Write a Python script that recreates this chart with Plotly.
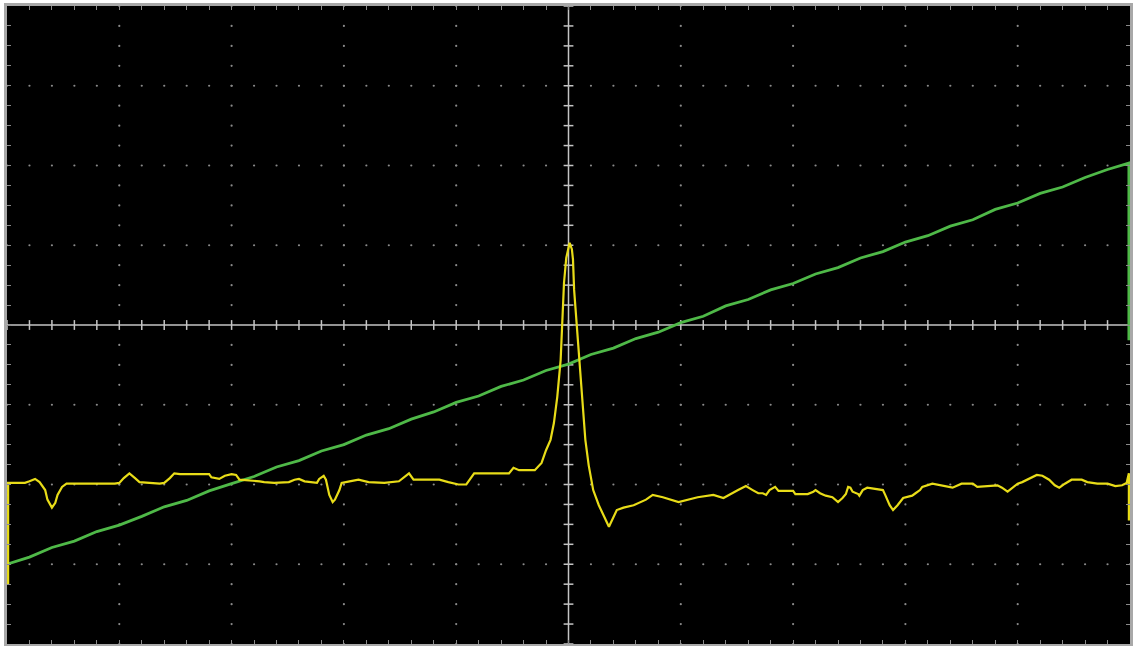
import numpy as np
import plotly.graph_objects as go

# Oscilloscope screen: x and y in divisions (10 x 8 grid, centre at 0,0)
x_divs = 10
y_divs = 8

# CH2 (green) ramp, sampled every 0.2 div
green_x = [round(-5 + 0.2 * k, 2) for k in range(50)] + [4.99, 4.99]
green_y = [-3.00, -2.91, -2.79, -2.71, -2.59, -2.51, -2.40, -2.28, -2.20, -2.08,
           -1.99, -1.90, -1.78, -1.70, -1.58, -1.50, -1.38, -1.30, -1.18, -1.09,
           -0.97, -0.89, -0.77, -0.69, -0.57, -0.49, -0.37, -0.29, -0.17, -0.09,
           0.03, 0.11, 0.24, 0.32, 0.44, 0.52, 0.64, 0.72, 0.84, 0.92,
           1.04, 1.12, 1.24, 1.32, 1.45, 1.53, 1.65, 1.73, 1.85, 1.95,
           2.03, -0.19]

# CH1 (yellow) trace with resonance peak
yellow_x = [-4.99, -4.99, -4.97, -4.84, -4.80, -4.75, -4.71, -4.66, -4.64, -4.60,
            -4.57, -4.55, -4.51, -4.47, -4.04, -4.00, -3.96, -3.91, -3.86, -3.82,
            -3.64, -3.60, -3.55, -3.51, -3.46, -3.20, -3.18, -3.11, -3.06, -3.00,
            -2.96, -2.93, -2.75, -2.71, -2.62, -2.49, -2.44, -2.40, -2.35, -2.24,
            -2.22, -2.18, -2.16, -2.13, -2.10, -2.08, -2.04, -2.02, -1.95, -1.87,
            -1.78, -1.64, -1.51, -1.42, -1.38, -1.15, -1.07, -0.98, -0.91, -0.84,
            -0.80, -0.53, -0.49, -0.44, -0.30, -0.27, -0.24, -0.20, -0.16, -0.13,
            -0.10, -0.07, -0.04, -0.02, 0.01, 0.03, 0.04, 0.05, 0.07, 0.10,
            0.15, 0.18, 0.22, 0.27, 0.31, 0.36, 0.43, 0.49, 0.58, 0.69,
            0.75, 0.84, 0.98, 1.07, 1.15, 1.29, 1.38, 1.51, 1.58, 1.64,
            1.69, 1.73, 1.76, 1.79, 1.84, 1.87, 2.00, 2.02, 2.13, 2.18,
            2.20, 2.24, 2.29, 2.35, 2.38, 2.40, 2.44, 2.47, 2.49, 2.51,
            2.53, 2.58, 2.59, 2.62, 2.66, 2.80, 2.82, 2.86, 2.89, 2.93,
            2.98, 3.06, 3.09, 3.13, 3.15, 3.20, 3.24, 3.42, 3.50, 3.60,
            3.64, 3.82, 3.86, 3.91, 3.95, 4.00, 4.04, 4.13, 4.17, 4.22,
            4.28, 4.33, 4.37, 4.42, 4.48, 4.57, 4.62, 4.71, 4.80, 4.87,
            4.93, 4.97, 4.99, 4.99]
yellow_y = [-3.26, -1.98, -1.98, -1.98, -1.96, -1.93, -1.97, -2.07, -2.19, -2.29,
            -2.23, -2.13, -2.03, -1.99, -1.99, -1.98, -1.92, -1.86, -1.92, -1.97,
            -1.99, -1.98, -1.92, -1.86, -1.87, -1.87, -1.91, -1.93, -1.89, -1.87,
            -1.88, -1.94, -1.96, -1.97, -1.98, -1.97, -1.94, -1.93, -1.96, -1.98,
            -1.93, -1.89, -1.94, -2.13, -2.22, -2.19, -2.07, -1.98, -1.96, -1.94,
            -1.97, -1.98, -1.96, -1.86, -1.94, -1.94, -1.97, -2.00, -2.00, -1.86,
            -1.86, -1.86, -1.79, -1.82, -1.82, -1.78, -1.73, -1.57, -1.44, -1.23,
            -0.90, -0.44, 0.53, 0.84, 1.03, 0.95, 0.82, 0.44, 0.06, -0.44,
            -1.44, -1.76, -2.07, -2.26, -2.38, -2.53, -2.32, -2.29, -2.26, -2.19,
            -2.13, -2.16, -2.22, -2.19, -2.16, -2.13, -2.17, -2.07, -2.02, -2.07,
            -2.11, -2.11, -2.13, -2.07, -2.03, -2.08, -2.08, -2.12, -2.12, -2.09,
            -2.07, -2.11, -2.14, -2.16, -2.19, -2.22, -2.17, -2.12, -2.03, -2.04,
            -2.09, -2.12, -2.14, -2.07, -2.04, -2.07, -2.13, -2.26, -2.32, -2.26,
            -2.17, -2.14, -2.11, -2.07, -2.03, -2.01, -1.99, -2.04, -1.99, -1.99,
            -2.03, -2.01, -2.04, -2.09, -2.04, -1.99, -1.97, -1.91, -1.88, -1.89,
            -1.94, -2.01, -2.04, -1.99, -1.94, -1.94, -1.97, -1.99, -1.99, -2.02,
            -2.01, -1.98, -1.86, -2.45]

GRID = "#8a8a8a"
AXIS = "#c4c4c4"

fig = go.Figure()

# dotted graticule
gx, gy = [], []
for j in range(-3, 4):
    if j == 0:
        continue
    for k in range(51):
        gx.append(-5 + 0.2 * k)
        gy.append(j)
for i in range(-4, 5):
    if i == 0:
        continue
    for k in range(33):
        gx.append(i)
        gy.append(-4 + 0.25 * k)
fig.add_trace(go.Scatter(x=gx, y=gy, mode="markers",
                         marker=dict(size=2.2, color=GRID), hoverinfo="skip"))

# centre crosshair tick marks
tx = [-5 + 0.2 * k for k in range(51)]
fig.add_trace(go.Scatter(x=tx, y=[0] * len(tx), mode="markers",
                         marker=dict(symbol="line-ns", size=7,
                                     line=dict(color=AXIS, width=1.5)),
                         hoverinfo="skip"))
ty = [-4 + 0.25 * k for k in range(33)]
fig.add_trace(go.Scatter(x=[0] * len(ty), y=ty, mode="markers",
                         marker=dict(symbol="line-ew", size=7,
                                     line=dict(color=AXIS, width=1.5)),
                         hoverinfo="skip"))

fig.add_shape(type="line", x0=-5, x1=5, y0=0, y1=0,
              line=dict(color=AXIS, width=1.5), layer="below")
fig.add_shape(type="line", x0=0, x1=0, y0=-4, y1=4,
              line=dict(color=AXIS, width=1.5), layer="below")

# signals
fig.add_trace(go.Scatter(x=green_x, y=green_y, mode="lines",
                         line=dict(color="#4fb948", width=2.8), hoverinfo="skip"))
fig.add_trace(go.Scatter(x=yellow_x, y=yellow_y, mode="lines",
                         line=dict(color="#e8dc18", width=2.2), hoverinfo="skip"))

fig.update_layout(
    width=1135, height=646,
    margin=dict(l=7, r=2, t=6, b=2),
    paper_bgcolor="white",
    plot_bgcolor="black",
    showlegend=False,
)
fig.update_xaxes(range=[-x_divs / 2, x_divs / 2], showgrid=False, zeroline=False,
                 showticklabels=False, ticks="inside", dtick=0.2, tick0=0,
                 ticklen=4, tickcolor=GRID, tickwidth=1,
                 showline=True, linecolor="#a8a8a8", linewidth=3, mirror="ticks")
fig.update_yaxes(range=[-y_divs / 2, y_divs / 2], showgrid=False, zeroline=False,
                 showticklabels=False, ticks="inside", dtick=0.25, tick0=0,
                 ticklen=4, tickcolor=GRID, tickwidth=1,
                 showline=True, linecolor="#a8a8a8", linewidth=3, mirror="ticks")

fig.write_html("out.html", config={"displayModeBar": False},
               post_script="document.body.style.margin='0';")
